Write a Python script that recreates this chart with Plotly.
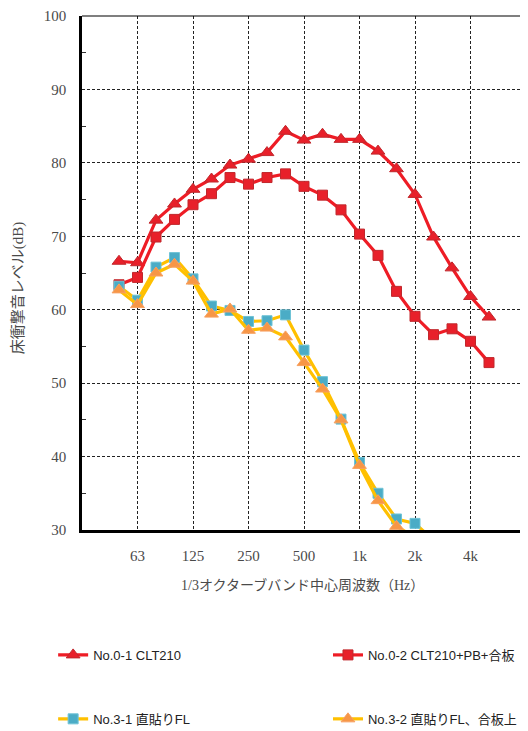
import plotly.graph_objects as go

# 1/3 octave band centre frequencies (Hz)
bands = ["50", "63", "80", "100", "125", "160", "200", "250", "315", "400", "500",
         "630", "800", "1k", "1.25k", "1.6k", "2k", "2.5k", "3.15k", "4k", "5k"]
tick_bands = ["63", "125", "250", "500", "1k", "2k", "4k"]
tick_labels = ["63", "125", "250", "500", "1k", "2k", "4k"]

no01_clt210 = [66.6, 66.4, 72.2, 74.4, 76.4, 77.8, 79.7, 80.5, 81.4, 84.3, 83.1,
               83.9, 83.2, 83.2, 81.6, 79.2, 75.7, 69.9, 65.7, 61.8, 59.0]
no02_clt210_pb = [63.4, 64.4, 69.9, 72.3, 74.3, 75.8, 78.0, 77.1, 78.0, 78.5, 76.8,
                  75.6, 73.6, 70.3, 67.4, 62.5, 59.1, 56.6, 57.4, 55.7, 52.8]
no31_fl = [63.2, 61.3, 65.8, 67.1, 64.2, 60.5, 59.9, 58.4, 58.5, 59.3, 54.5,
           50.2, 45.1, 39.2, 35.0, 31.5, 30.9, 28.6]
no32_fl_ply = [62.7, 60.7, 65.0, 66.2, 63.9, 59.4, 60.1, 57.2, 57.5, 56.3, 52.8,
               49.2, 45.0, 38.8, 34.0, 30.5, 29.0]

series = [
    ("No.0-1 CLT210", no01_clt210, "#ee1c25", "triangle-up", "#e8202a", "#c0282d", 12),
    ("No.0-2 CLT210+PB+合板", no02_clt210_pb, "#ee1c25", "square", "#e8202a", "#c0282d", 10),
    ("No.3-1 直貼りFL", no31_fl, "#ffc000", "square", "#4bacc6", "#6fc3d6", 10),
    ("No.3-2 直貼りFL、合板上", no32_fl_ply, "#ffc000", "triangle-up", "#f79646", "#f7a060", 12),
]
legend_names = ["legend", "legend2", "legend3", "legend4"]

fig = go.Figure()
for (name, vals, lc, sym, mc, mlc, ms), lg in zip(series, legend_names):
    fig.add_trace(go.Scatter(
        x=list(range(len(vals))), y=vals, name=name, mode="lines+markers",
        line=dict(color=lc, width=3.2),
        marker=dict(symbol=sym, size=ms, color=mc, line=dict(color=mlc, width=1)),
        legend=lg,
    ))

tickfont = dict(family="Liberation Serif, Noto Sans CJK JP", size=15, color="#4a4a4a")
legfont = dict(family="Liberation Sans, Noto Sans CJK JP", size=13, color="#222222")

# page body has an 8px margin: figure is 520x723 placed at (8, 8)
fig.update_layout(
    width=520, height=723,
    margin=dict(l=74, r=2, t=8, b=201, autoexpand=False),
    paper_bgcolor="white", plot_bgcolor="white",
    xaxis=dict(
        range=[-2, 22], tickmode="array",
        tickvals=[bands.index(b) for b in tick_bands], ticktext=tick_labels,
        showgrid=True, gridcolor="#222222", griddash="3px,2px", gridwidth=1,
        zeroline=False, showline=True, linecolor="black", linewidth=2.5,
        ticks="", tickfont=tickfont, ticklabelstandoff=10, automargin=False,
    ),
    yaxis=dict(
        range=[30, 100], dtick=10, tick0=30,
        showgrid=True, gridcolor="#222222", griddash="3px,2px", gridwidth=1,
        zeroline=False, showline=True, linecolor="black", linewidth=2.5,
        ticks="", tickfont=tickfont, ticklabelstandoff=10, automargin=False,
        minor=dict(dtick=5, ticks="inside", ticklen=4, tickcolor="#333333", showgrid=False),
    ),
    showlegend=True,
    legend=dict(x=-0.065, y=-0.2431, xanchor="left", yanchor="middle", font=legfont,
                bgcolor="rgba(0,0,0,0)", orientation="h"),
    legend2=dict(x=0.554, y=-0.2431, xanchor="left", yanchor="middle", font=legfont,
                 bgcolor="rgba(0,0,0,0)", orientation="h"),
    legend3=dict(x=-0.065, y=-0.3675, xanchor="left", yanchor="middle", font=legfont,
                 bgcolor="rgba(0,0,0,0)", orientation="h"),
    legend4=dict(x=0.554, y=-0.3675, xanchor="left", yanchor="middle", font=legfont,
                 bgcolor="rgba(0,0,0,0)", orientation="h"),
    shapes=[
        dict(type="line", xref="paper", yref="paper", x0=0, x1=1, y0=1, y1=1,
             line=dict(color="black", width=1.2)),
        dict(type="line", xref="paper", yref="paper", x0=1, x1=1, y0=0, y1=1,
             line=dict(color="black", width=1.2)),
    ],
    annotations=[
        dict(text="1/3オクターブバンド中心周波数（Hz）", xref="paper", yref="paper",
             x=0.497, y=-0.107, xanchor="center", yanchor="middle", showarrow=False,
             font=dict(family="Liberation Serif, Noto Sans CJK JP", size=14, color="#4a4a4a")),
        dict(text="床衝撃音レベル(dB)", xref="paper", yref="paper", textangle=-90,
             x=-0.144, y=0.4705, xanchor="center", yanchor="middle", showarrow=False,
             font=dict(family="Liberation Serif, Noto Sans CJK JP", size=15, color="#4a4a4a")),
    ],
)

fig.write_html("out.html")
